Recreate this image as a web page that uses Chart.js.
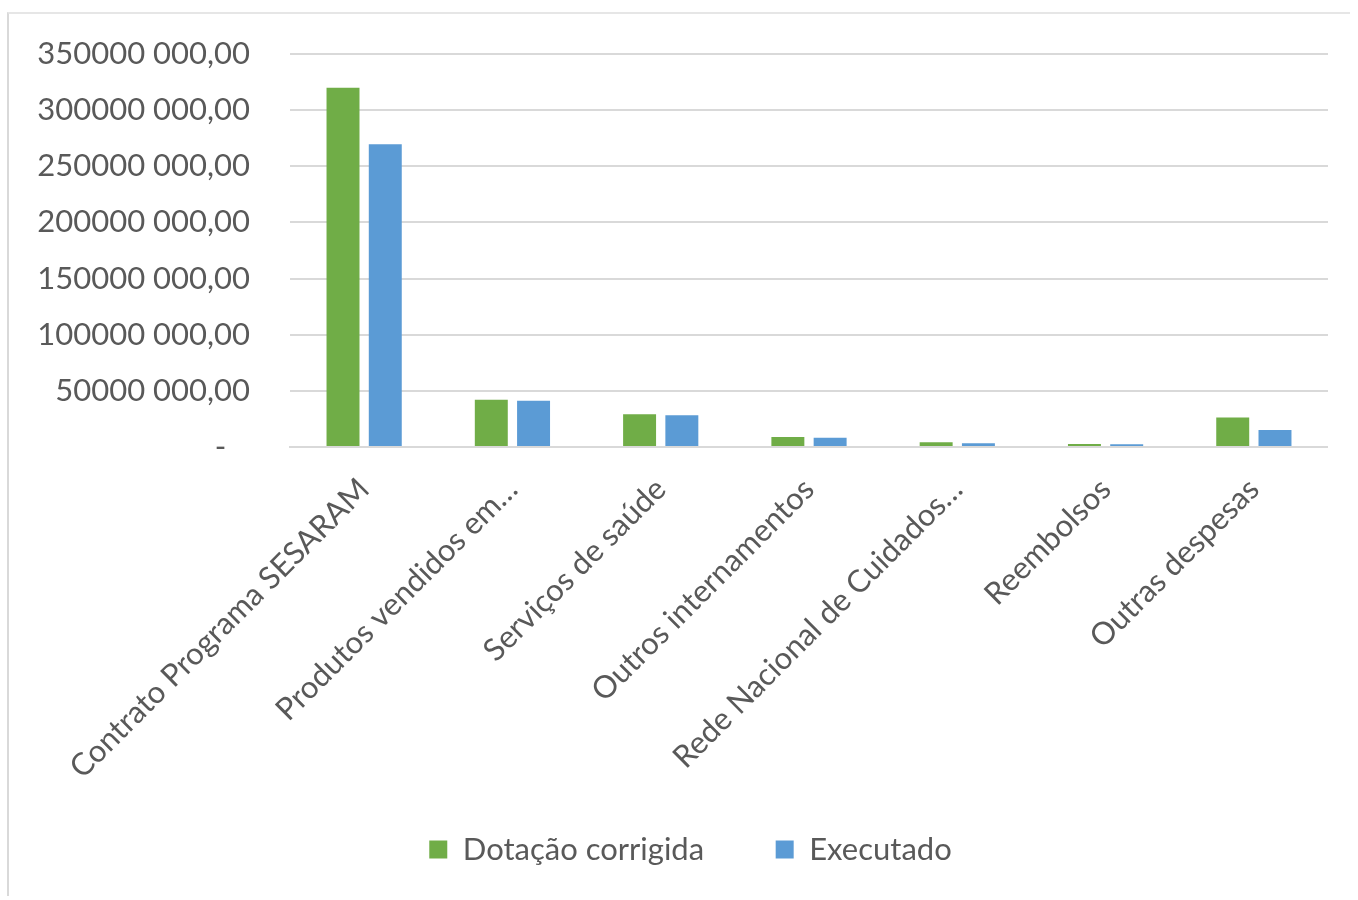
<!DOCTYPE html>
<html>
<head>
<meta charset="utf-8">
<script src="https://cdn.jsdelivr.net/npm/chart.js@4.4.1/dist/chart.umd.min.js"></script>
<style>
  html, body { margin: 0; padding: 0; background: #fff; }
  #frame {
    position: absolute; left: 7px; top: 12px; width: 1343px; height: 884px;
    border-left: 2px solid #d9d9d9; border-top: 2px solid #e6e6e6;
    box-sizing: border-box;
  }
  #wrap { position: absolute; left: 0; top: 0; width: 1319px; height: 882px; }
</style>
</head>
<body>
<div id="frame"><div id="wrap"><canvas id="chart"></canvas></div></div>
<script>
const categories = [
  'Contrato Programa SESARAM',
  'Produtos vendidos em…',
  'Serviços de saúde',
  'Outros internamentos',
  'Rede Nacional de Cuidados…',
  'Reembolsos',
  'Outras despesas'
];
const dotacaoCorrigida = [320000000, 42000000, 29200000, 8900000, 4200000, 2700000, 26200000];
const executado = [269700000, 41300000, 28300000, 8300000, 3300000, 2500000, 15200000];
const yTicks = [0, 50000000, 100000000, 150000000, 200000000, 250000000, 300000000, 350000000];

const textColor = '#595959';
const fontFamily = 'Lato, "Open Sans", sans-serif';
const fontSize = 31;

// 350000000 -> "350000 000,00", 0 -> "-"
function fmt(v) {
  if (v === 0) return '-   ';
  const s = String(Math.round(v));
  const head = s.slice(0, s.length - 3);
  const tail = s.slice(-3);
  return head + ' ' + tail + ',00';
}

// nudge the legend a little to the right of the canvas centre
const legendShift = {
  id: 'legendShift',
  afterLayout(chart) {
    const lg = chart.legend;
    if (!lg) return;
    lg.left += 22;
    lg.right += 22;
  }
};

const ctx = document.getElementById('chart').getContext('2d');
new Chart(ctx, {
  type: 'bar',
  data: {
    labels: categories,
    datasets: [
      {
        label: 'Dotação corrigida',
        data: dotacaoCorrigida,
        backgroundColor: '#70ad47',
        barPercentage: 0.78,
        categoryPercentage: 0.57
      },
      {
        label: 'Executado',
        data: executado,
        backgroundColor: '#5b9bd5',
        barPercentage: 0.78,
        categoryPercentage: 0.57
      }
    ]
  },
  plugins: [legendShift],
  options: {
    responsive: true,
    maintainAspectRatio: false,
    animation: false,
    layout: { padding: { top: 40, right: 0, bottom: 21, left: 0 } },
    scales: {
      x: {
        grid: { display: false, drawTicks: false },
        border: { color: '#d9d9d9', width: 2 },
        ticks: {
          color: textColor,
          font: { family: fontFamily, size: fontSize },
          minRotation: 45,
          maxRotation: 45,
          autoSkip: false,
          padding: 24
        },
        afterFit(scale) { scale.height = 371; }
      },
      y: {
        min: 0,
        max: 350000000,
        afterBuildTicks(scale) {
          scale.ticks = yTicks.map(v => ({ value: v }));
        },
        grid: { color: '#d9d9d9', lineWidth: 2, drawTicks: false },
        border: { display: false },
        ticks: {
          color: textColor,
          font: { family: fontFamily, size: fontSize },
          padding: 40,
          callback: v => fmt(v)
        },
        afterFit(scale) {
          scale.width = 281;
          scale.paddingTop = 0;
          scale.paddingBottom = 0;
        }
      }
    },
    plugins: {
      legend: {
        position: 'bottom',
        labels: {
          color: textColor,
          font: { family: fontFamily, size: 31 },
          boxWidth: 18,
          boxHeight: 18,
          padding: 16,
          // extra room after the first entry
          generateLabels(chart) {
            const items = Chart.defaults.plugins.legend.labels.generateLabels(chart);
            items[0].text = items[0].text + '       ';
            return items;
          }
        }
      },
      tooltip: { enabled: false }
    }
  }
});
</script>
</body>
</html>
